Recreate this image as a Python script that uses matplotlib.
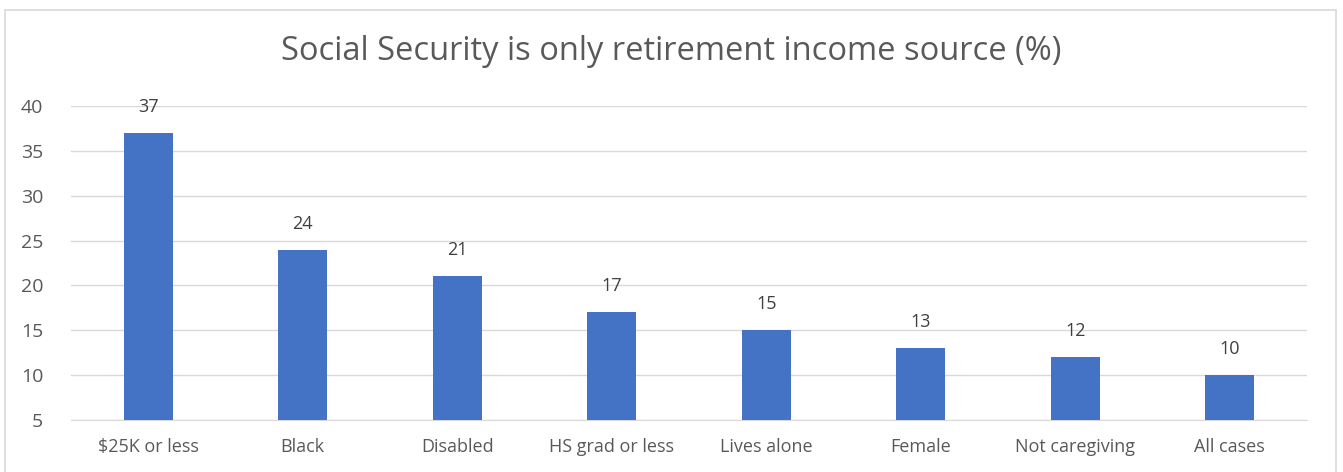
import matplotlib.pyplot as plt
from matplotlib.patches import Rectangle

categories = ["$25K or less", "Black", "Disabled", "HS grad or less",
              "Lives alone", "Female", "Not caregiving", "All cases"]
values = [37, 24, 21, 17, 15, 13, 12, 10]
y_ticks = [5, 10, 15, 20, 25, 30, 35, 40]

W, H = 1343, 472
fig = plt.figure(figsize=(W / 100, H / 100), dpi=100)
plt.rcParams['font.family'] = ['Open Sans', 'DejaVu Sans']

# chart border box (runs off the bottom of the crop)
fig.patches.append(Rectangle((5 / W, -0.05), 1331 / W, (H - 10) / H + 0.05,
                             transform=fig.transFigure, fill=False,
                             edgecolor="#D9D9D9", linewidth=1.2))

ax = fig.add_axes([71 / W, 1 - 420 / H, (1307 - 71) / W, (420 - 106) / H])
x = range(len(categories))
ax.bar(x, [v - 5 for v in values], bottom=5, width=0.32,
       color="#4472C4", zorder=3)
for xi, v in zip(x, values):
    ax.text(xi, v + 2.9, str(v), ha="center", va="center",
            fontsize=13, color="#404040")

ax.set_xlim(-0.5, len(categories) - 0.5)
ax.set_ylim(5, 40)
ax.set_yticks(y_ticks)
ax.set_xticks(list(x))
ax.set_xticklabels(categories)
ax.tick_params(axis="both", length=0, labelsize=13, colors="#595959")
ax.tick_params(axis="y", labelsize=14, pad=20)
ax.tick_params(axis="x", pad=13)
ax.grid(axis="y", color="#D9D9D9", linewidth=1, zorder=0)
for s in ax.spines.values():
    s.set_visible(False)
ax.spines["bottom"].set_visible(True)
ax.spines["bottom"].set_color("#D9D9D9")

fig.text(671 / W, 1 - 52 / H, "Social Security is only retirement income source (%)",
         ha="center", va="center", fontsize=23.5, color="#595959")

fig.savefig("out.png", dpi=100)
